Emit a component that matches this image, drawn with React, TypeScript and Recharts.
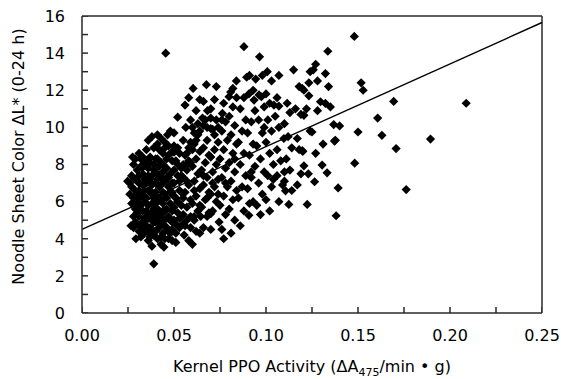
import React from 'react';
import { ScatterChart, Scatter, XAxis, YAxis, ReferenceLine } from 'recharts';

// Kernel PPO activity (x) vs noodle sheet color change ΔL* (y)
const samples: [number, number][] = [
  // 0.025 - 0.030
  [0.026, 7.0], [0.027, 7.4], [0.027, 6.8], [0.028, 8.0], [0.028, 6.2], [0.029, 8.3], [0.029, 5.6],
  [0.029, 4.9], [0.026, 6.4], [0.028, 5.2], [0.027, 5.9], [0.029, 7.2], [0.028, 4.6], [0.029, 6.6],
  [0.0275, 8.4], [0.0248, 7.1], [0.0266, 4.7], [0.029, 6.0],
  // 0.030 - 0.035
  [0.030, 7.7], [0.031, 8.6], [0.031, 7.0], [0.032, 6.3], [0.030, 6.0], [0.033, 5.5], [0.031, 5.2],
  [0.032, 4.7], [0.034, 4.3], [0.033, 7.5], [0.034, 8.1], [0.031, 6.6], [0.032, 5.8], [0.033, 6.9],
  [0.034, 6.0], [0.030, 4.8], [0.034, 5.1], [0.032, 7.9], [0.033, 4.9], [0.035, 8.8], [0.031, 5.6],
  [0.034, 7.2], [0.030, 6.4], [0.033, 6.3], [0.032, 4.4], [0.0293, 4.0], [0.032, 4.1], [0.033, 7.85],
  [0.030, 5.4], [0.031, 4.4], [0.033, 4.5], [0.034, 6.6], [0.031, 7.4], [0.033, 8.4], [0.032, 8.3],
  [0.030, 7.1], [0.031, 6.2],
  // 0.035 - 0.040
  [0.036, 9.3], [0.038, 9.5], [0.037, 8.4], [0.036, 7.8], [0.038, 7.4], [0.035, 7.0], [0.037, 6.6],
  [0.039, 6.2], [0.036, 5.8], [0.038, 5.4], [0.035, 5.0], [0.037, 4.6], [0.039, 4.2], [0.036, 3.9],
  [0.038, 3.6], [0.039, 8.0], [0.035, 6.2], [0.038, 6.9], [0.037, 5.2], [0.039, 4.9], [0.036, 4.4],
  [0.039, 2.65], [0.035, 8.2], [0.037, 7.2], [0.038, 5.9], [0.036, 6.6], [0.039, 7.7], [0.037, 4.1],
  [0.035, 5.5], [0.039, 5.6], [0.038, 4.5], [0.036, 7.4], [0.035, 4.7], [0.036, 5.3], [0.038, 5.0],
  [0.036, 7.1], [0.038, 6.4], [0.035, 7.9], [0.037, 8.1], [0.039, 8.9],
  // 0.040 - 0.045
  [0.041, 9.6], [0.043, 9.4], [0.042, 8.8], [0.044, 8.6], [0.040, 8.3], [0.042, 7.9], [0.044, 7.6],
  [0.041, 7.2], [0.043, 6.9], [0.040, 6.5], [0.042, 6.2], [0.044, 5.9], [0.041, 5.6], [0.043, 5.3],
  [0.040, 4.9], [0.042, 4.6], [0.044, 4.3], [0.041, 4.0], [0.043, 3.7], [0.0445, 3.55], [0.0455, 14.0],
  [0.044, 6.5], [0.040, 7.6], [0.043, 8.1], [0.041, 5.1], [0.044, 5.0], [0.042, 6.8], [0.040, 5.9],
  [0.043, 4.8], [0.041, 6.0], [0.044, 7.2], [0.042, 5.5], [0.040, 4.4], [0.043, 6.1], [0.041, 8.3],
  [0.040, 5.3], [0.042, 5.0], [0.044, 5.5], [0.040, 7.0], [0.042, 7.4], [0.044, 8.0], [0.041, 9.1],
  [0.043, 4.1],
  // 0.045 - 0.050
  [0.0465, 9.6], [0.048, 9.8], [0.045, 8.9], [0.047, 8.5], [0.049, 8.2], [0.046, 7.8], [0.048, 7.5],
  [0.045, 7.1], [0.047, 6.8], [0.049, 6.5], [0.046, 6.2], [0.048, 5.9], [0.045, 5.5], [0.047, 5.2],
  [0.049, 4.9], [0.046, 4.6], [0.048, 4.3], [0.045, 4.0], [0.049, 3.9], [0.047, 7.3], [0.049, 7.0],
  [0.046, 5.1], [0.048, 6.5], [0.045, 6.4], [0.049, 5.5], [0.047, 4.4], [0.046, 8.3], [0.050, 8.66],
  [0.046, 5.6], [0.048, 5.0], [0.046, 7.3], [0.048, 6.9], [0.045, 9.2], [0.047, 9.0], [0.049, 8.7],
  [0.045, 4.7], [0.047, 4.0], [0.049, 4.5],
  // 0.050 - 0.055
  [0.051, 3.8], [0.053, 4.6], [0.050, 5.0], [0.052, 5.4], [0.054, 5.8], [0.051, 6.2], [0.053, 6.6],
  [0.050, 7.0], [0.052, 7.4], [0.054, 7.8], [0.051, 8.2], [0.053, 8.6], [0.050, 9.0], [0.050, 9.7],
  [0.052, 10.55], [0.050, 5.7], [0.053, 7.1], [0.051, 4.3], [0.054, 6.5], [0.052, 8.9], [0.054, 5.2],
  [0.050, 6.3], [0.052, 6.0], [0.050, 7.7], [0.052, 8.0], [0.051, 4.8], [0.053, 5.1], [0.054, 7.4],
  // 0.055 - 0.060
  [0.056, 4.7], [0.0555, 4.2], [0.055, 5.3], [0.057, 5.7], [0.059, 6.1], [0.056, 6.5], [0.058, 6.9],
  [0.055, 7.3], [0.057, 7.7], [0.059, 8.1], [0.056, 8.5], [0.058, 8.9], [0.055, 9.3], [0.0564, 10.0],
  [0.059, 10.4], [0.056, 11.2], [0.058, 11.6], [0.059, 5.2], [0.055, 6.2], [0.057, 7.1], [0.058, 3.9],
  [0.055, 4.8], [0.057, 5.0], [0.059, 4.6], [0.056, 7.9], [0.058, 8.2], [0.055, 8.0], [0.057, 8.6],
  [0.059, 9.2],
  // 0.060 - 0.065
  [0.060, 3.7], [0.062, 4.4], [0.064, 4.3], [0.061, 5.0], [0.063, 5.5], [0.060, 5.9], [0.062, 6.3],
  [0.064, 6.7], [0.061, 7.1], [0.063, 7.5], [0.060, 7.9], [0.062, 8.3], [0.064, 8.7], [0.061, 9.1],
  [0.063, 9.6], [0.060, 10.0], [0.062, 10.9], [0.064, 11.5], [0.0604, 12.1], [0.0655, 10.5],
  [0.061, 6.6], [0.064, 5.8], [0.0645, 5.2], [0.061, 5.2], [0.060, 8.8], [0.062, 9.3], [0.064, 9.8],
  [0.061, 9.7], [0.063, 10.2],
  // 0.065 - 0.070
  [0.066, 4.6], [0.068, 5.2], [0.065, 5.7], [0.067, 6.1], [0.069, 6.5], [0.066, 6.9], [0.068, 7.3],
  [0.065, 7.7], [0.067, 8.1], [0.069, 8.5], [0.066, 8.9], [0.068, 9.3], [0.070, 9.93], [0.067, 10.4],
  [0.0682, 10.9], [0.066, 11.4], [0.0676, 12.3], [0.069, 5.4], [0.066, 7.4], [0.068, 6.2],
  [0.066, 10.1], [0.068, 10.0],
  // 0.070 - 0.075
  [0.070, 4.5], [0.070, 5.35], [0.0745, 4.9], [0.071, 5.5], [0.073, 6.0], [0.070, 6.4], [0.072, 6.8],
  [0.074, 7.2], [0.071, 7.6], [0.073, 8.0], [0.070, 8.4], [0.072, 8.8], [0.074, 9.2], [0.071, 9.9],
  [0.073, 10.4], [0.070, 11.0], [0.072, 11.5], [0.073, 12.2], [0.074, 6.4], [0.071, 7.0],
  [0.070, 10.5], [0.072, 9.6], [0.074, 10.0],
  // 0.075 - 0.080
  [0.076, 4.5], [0.078, 5.3], [0.075, 5.8], [0.077, 6.3], [0.079, 6.8], [0.076, 7.3], [0.078, 7.8],
  [0.075, 8.3], [0.077, 8.8], [0.079, 9.3], [0.076, 9.8], [0.078, 10.3], [0.0763, 10.75], [0.077, 11.3],
  [0.0799, 11.65], [0.0808, 11.9], [0.078, 7.0], [0.077, 4.0], [0.076, 10.4],
  // 0.080 - 0.085
  [0.081, 4.3], [0.083, 5.0], [0.080, 5.6], [0.082, 6.1], [0.084, 6.6], [0.081, 7.1], [0.083, 7.6],
  [0.080, 8.1], [0.082, 8.6], [0.084, 9.1], [0.081, 9.6], [0.083, 10.1], [0.080, 10.6], [0.082, 11.1],
  [0.084, 11.6], [0.082, 12.1], [0.0839, 12.5], [0.083, 8.3],
  // 0.085 - 0.090
  [0.086, 4.7], [0.088, 5.5], [0.085, 6.2], [0.087, 6.8], [0.089, 7.4], [0.086, 8.0], [0.088, 8.6],
  [0.085, 9.2], [0.087, 9.8], [0.089, 10.4], [0.086, 11.0], [0.088, 11.6], [0.0907, 11.8], [0.0895, 12.7],
  [0.088, 14.35], [0.0907, 5.26],
  // 0.090 - 0.095
  [0.091, 5.9], [0.093, 6.0], [0.090, 6.7], [0.092, 7.3], [0.094, 7.9], [0.091, 8.5], [0.093, 9.1],
  [0.090, 9.7], [0.092, 10.3], [0.094, 10.9], [0.0935, 11.47], [0.093, 12.0], [0.0944, 12.6],
  [0.091, 12.8], [0.092, 7.6],
  // 0.095 - 0.100
  [0.0965, 13.8], [0.0975, 11.65], [0.098, 12.8], [0.0962, 11.75], [0.099, 11.1], [0.096, 10.4],
  [0.098, 9.7], [0.095, 9.0], [0.097, 8.3], [0.099, 7.6], [0.096, 7.0], [0.098, 6.4], [0.095, 5.8],
  [0.097, 5.3], [0.099, 10.0],
  // 0.100 - 0.105
  [0.1007, 13.0], [0.103, 12.5], [0.100, 11.8], [0.102, 11.3], [0.1043, 11.2], [0.101, 10.4],
  [0.103, 9.8], [0.100, 9.2], [0.102, 8.6], [0.104, 8.0], [0.101, 7.4], [0.103, 6.8], [0.100, 6.1],
  [0.102, 5.5], [0.104, 7.2],
  // 0.105 - 0.110
  [0.107, 12.8], [0.106, 11.6], [0.107, 11.15], [0.105, 10.6], [0.107, 10.0], [0.1097, 9.4],
  [0.106, 8.8], [0.108, 8.2], [0.110, 7.6], [0.106, 7.4], [0.109, 6.9], [0.107, 6.0], [0.1106, 6.58],
  // 0.110 - 0.115
  [0.1115, 11.3], [0.113, 10.8], [0.110, 10.2], [0.112, 9.5], [0.114, 8.9], [0.111, 8.3], [0.113, 7.7],
  [0.110, 7.1], [0.1124, 5.85], [0.114, 6.6],
  // 0.115 - 0.120
  [0.115, 13.1], [0.118, 12.2], [0.116, 11.0], [0.119, 10.7], [0.117, 9.4], [0.118, 8.8], [0.1197, 8.75],
  [0.119, 7.5], [0.117, 6.9], [0.1197, 12.1],
  // 0.120 - 0.125
  [0.1206, 12.0], [0.1233, 11.7], [0.122, 11.0], [0.1206, 10.65], [0.124, 9.8], [0.120, 8.7],
  [0.1206, 7.93], [0.123, 7.5], [0.1224, 5.85], [0.124, 13.0], [0.1233, 12.4],
  // 0.125 - 0.130
  [0.1257, 13.1], [0.127, 13.4], [0.125, 9.75], [0.1264, 7.07], [0.1296, 11.38], [0.128, 10.9],
  [0.127, 8.6], [0.1305, 7.97], [0.128, 12.5],
  // 0.130 - 0.135
  [0.1336, 14.1], [0.1323, 12.9], [0.134, 12.2], [0.1323, 11.29], [0.135, 11.1], [0.1332, 7.55],
  [0.131, 9.1],
  // 0.135 - 0.140
  [0.1368, 10.15], [0.140, 10.08], [0.1372, 9.26], [0.1392, 6.74], [0.1381, 5.24], [0.1377, 9.3],
  // beyond 0.14
  [0.148, 14.9], [0.1482, 8.07], [0.150, 9.75], [0.1517, 12.4], [0.1528, 12.0], [0.1607, 10.5],
  [0.163, 9.57], [0.1694, 11.4], [0.1707, 8.86], [0.1762, 6.65], [0.1894, 9.37], [0.2088, 11.3],
];

const fitLine = [
  { x: 0, y: 4.5 },
  { x: 0.25, y: 15.65 },
];

const xDomain: [number, number] = [0, 0.25];
const yDomain: [number, number] = [0, 16];
const xTicks = [0, 0.025, 0.05, 0.075, 0.1, 0.125, 0.15, 0.175, 0.2, 0.225, 0.25];
const yTicks = [0, 1, 2, 3, 4, 5, 6, 7, 8, 9, 10, 11, 12, 13, 14, 15, 16];

const data = samples.map(([x, y]) => ({ x, y }));
// tick marks drawn as tiny scatter glyphs sitting on the axes
const xTickMarks = xTicks.map((t) => ({ x: t, y: yDomain[0] }));
const yTickMarks = yTicks.map((t) => ({ x: xDomain[0], y: t }));

const FONT = 'DejaVu Sans';
const AXIS = '#2a2a2a';
const TICK_PX = 6;

const Diamond = (props: any) => {
  const { cx, cy } = props;
  if (cx == null || cy == null) return null;
  const r = 4.6;
  return <path d={`M${cx},${cy - r}L${cx + r},${cy}L${cx},${cy + r}L${cx - r},${cy}Z`} fill="#000" />;
};

const XTickMark = (props: any) => {
  const { cx, cy } = props;
  if (cx == null || cy == null) return null;
  return <rect x={cx - 0.75} y={cy - TICK_PX} width={1.5} height={TICK_PX} fill={AXIS} />;
};

const YTickMark = (props: any) => {
  const { cx, cy } = props;
  if (cx == null || cy == null) return null;
  return <rect x={cx} y={cy - 0.75} width={TICK_PX} height={1.5} fill={AXIS} />;
};

const XTick = (props: any) => {
  const { x, y, payload } = props;
  const v = payload.value as number;
  if (Math.round(v * 1000) % 50 !== 0) return <g />;
  return (
    <text x={x} y={y + 28} textAnchor="middle" fontFamily={FONT} fontSize={16} fill="#000">
      {v.toFixed(2)}
    </text>
  );
};

const YTick = (props: any) => {
  const { x, y, payload } = props;
  const v = payload.value as number;
  if (v % 2 !== 0) return <g />;
  return (
    <text x={x - 17} y={y + 5.8} textAnchor="end" fontFamily={FONT} fontSize={16} fill="#000">
      {String(v)}
    </text>
  );
};

const XTitle = (props: any) => {
  const vb = props.viewBox || {};
  const cx = vb.x + vb.width / 2;
  const y = vb.y + 59;
  return (
    <text x={cx} y={y} textAnchor="middle" fontFamily={FONT} fontSize={16} fill="#000">
      <tspan>Kernel PPO Activity (ΔA</tspan>
      <tspan fontSize={11} dy={4}>475</tspan>
      <tspan dy={-4}>/min • g)</tspan>
    </text>
  );
};

const YTitle = (props: any) => {
  const vb = props.viewBox || {};
  const x = 24;
  const y = vb.y + vb.height / 2 - 8;
  return (
    <text x={x} y={y} transform={`rotate(-90, ${x}, ${y})`} textAnchor="middle" fontFamily={FONT} fontSize={16} fill="#000">
      Noodle Sheet Color ΔL* (0-24 h)
    </text>
  );
};

export default function App() {
  return (
    <div style={{ position: 'fixed', left: 0, top: 0, width: 561, height: 379, background: '#fff' }}>
      <ScatterChart width={561} height={379} margin={{ top: 16, right: 19, bottom: 0, left: 0 }}>
        <XAxis
          type="number"
          dataKey="x"
          domain={xDomain}
          ticks={xTicks}
          interval={0}
          tickLine={false}
          tickSize={0}
          tickMargin={0}
          height={66}
          axisLine={{ stroke: AXIS, strokeWidth: 1.5 }}
          tick={<XTick />}
          label={{ content: (p: any) => <XTitle {...p} /> }}
          allowDataOverflow
        />
        <YAxis
          type="number"
          dataKey="y"
          domain={yDomain}
          ticks={yTicks}
          interval={0}
          tickLine={false}
          tickSize={0}
          tickMargin={0}
          width={82}
          axisLine={{ stroke: AXIS, strokeWidth: 1.5 }}
          tick={<YTick />}
          label={{ content: (p: any) => <YTitle {...p} /> }}
          allowDataOverflow
        />
        <ReferenceLine y={yDomain[1]} stroke={AXIS} strokeWidth={1.5} ifOverflow="visible" />
        <ReferenceLine x={xDomain[1]} stroke={AXIS} strokeWidth={1.5} ifOverflow="visible" />
        <Scatter data={xTickMarks} shape={XTickMark} isAnimationActive={false} />
        <Scatter data={yTickMarks} shape={YTickMark} isAnimationActive={false} />
        <Scatter data={data} shape={Diamond} isAnimationActive={false} />
        <ReferenceLine segment={fitLine} stroke="#000" strokeWidth={1.4} ifOverflow="visible" />
      </ScatterChart>
    </div>
  );
}
